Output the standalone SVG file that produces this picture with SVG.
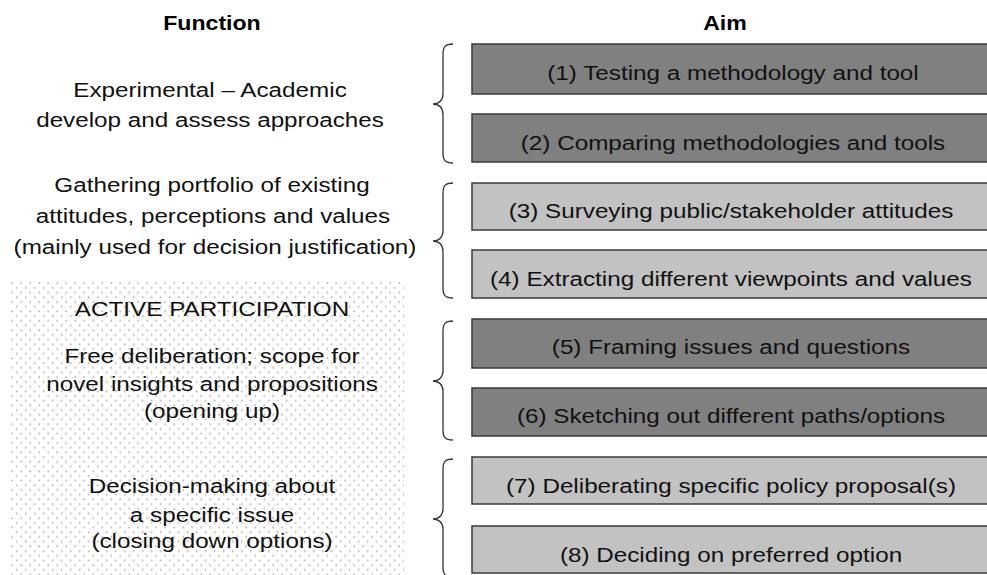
<svg xmlns="http://www.w3.org/2000/svg" width="987" height="575" viewBox="0 0 987 575">
<style>
  .t { font-family: "Liberation Sans", Arial, Helvetica, sans-serif; font-size: 21px; fill: #111; text-anchor: middle; }
  .h { font-family: "Liberation Sans", Arial, Helvetica, sans-serif; font-size: 20px; font-weight: bold; fill: #000; text-anchor: middle; }
  .dark { fill: #808080; stroke: #3a3a3a; stroke-width: 1.5; }
  .light { fill: #c2c2c2; stroke: #3a3a3a; stroke-width: 1.5; }
  .brace { fill: none; stroke: #333; stroke-width: 1.3; }
</style>
<defs>
  <pattern id="dots" x="10" y="281" width="9" height="9.4" patternUnits="userSpaceOnUse">
    <circle cx="2.2" cy="2.2" r="1" fill="#bababa"/>
    <circle cx="6.7" cy="6.9" r="1" fill="#bababa"/>
  </pattern>
</defs>
<rect width="987" height="575" fill="#fff"/>

<g id="headers">
  <text class="h" transform="translate(212,30) scale(1.155,1)">Function</text>
  <text class="h" transform="translate(725,30) scale(1.155,1)">Aim</text>
</g>

<g id="active-participation-area">
  <rect x="10" y="281" width="394" height="294" fill="url(#dots)"/>
</g>

<g id="func-experimental">
  <text class="t" transform="translate(210,97) scale(1.155,1)">Experimental – Academic</text>
  <text class="t" transform="translate(210,127) scale(1.155,1)">develop and assess approaches</text>
</g>
<g id="func-gathering">
  <text class="t" transform="translate(212,192) scale(1.155,1)">Gathering portfolio of existing</text>
  <text class="t" transform="translate(213,223) scale(1.155,1)">attitudes, perceptions and values</text>
  <text class="t" transform="translate(215,254) scale(1.155,1)">(mainly used for decision justification)</text>
</g>
<g id="func-active">
  <text class="t" transform="translate(212,316) scale(1.155,1)">ACTIVE PARTICIPATION</text>
</g>
<g id="func-free">
  <text class="t" transform="translate(212,363) scale(1.155,1)">Free deliberation; scope for</text>
  <text class="t" transform="translate(212,391) scale(1.155,1)">novel insights and propositions</text>
  <text class="t" transform="translate(212,418) scale(1.155,1)">(opening up)</text>
</g>
<g id="func-decision">
  <text class="t" transform="translate(212,493) scale(1.155,1)">Decision-making about</text>
  <text class="t" transform="translate(212,522) scale(1.155,1)">a specific issue</text>
  <text class="t" transform="translate(212,548) scale(1.155,1)">(closing down options)</text>
</g>

<g id="connectors">
  <path class="brace" d="M453,44 C445,44 443,47 443,54 L443,94 C443,100 439,104 433,104 C439,104 443,108 443,114 L443,153 C443,160 445,163 453,163"/>
  <path class="brace" d="M453,183 C445,183 443,186 443,193 L443,231 C443,237 439,241 433,241 C439,241 443,245 443,251 L443,288 C443,295 445,298 453,298"/>
  <path class="brace" d="M453,321 C445,321 443,324 443,331 L443,371 C443,377 439,381 433,381 C439,381 443,385 443,391 L443,430 C443,437 445,440 453,440"/>
  <path class="brace" d="M453,459 C445,459 443,462 443,469 L443,509 C443,515 439,519 433,519 C439,519 443,523 443,529 L443,567 C443,574 445,577 453,577"/>
</g>

<g id="aim1">
  <rect class="dark" x="472" y="44" width="516" height="50"/>
  <text class="t" transform="translate(733,80) scale(1.155,1)">(1) Testing a methodology and tool</text>
</g>
<g id="aim2">
  <rect class="dark" x="472" y="114" width="516" height="48"/>
  <text class="t" transform="translate(733,150) scale(1.155,1)">(2) Comparing methodologies and tools</text>
</g>
<g id="aim3">
  <rect class="light" x="472" y="183" width="516" height="47"/>
  <text class="t" transform="translate(731,218) scale(1.155,1)">(3) Surveying public/stakeholder attitudes</text>
</g>
<g id="aim4">
  <rect class="light" x="472" y="250" width="516" height="48"/>
  <text class="t" transform="translate(731,286) scale(1.155,1)">(4) Extracting different viewpoints and values</text>
</g>
<g id="aim5">
  <rect class="dark" x="472" y="319" width="516" height="49"/>
  <text class="t" transform="translate(731,354) scale(1.155,1)">(5) Framing issues and questions</text>
</g>
<g id="aim6">
  <rect class="dark" x="472" y="388" width="516" height="48"/>
  <text class="t" transform="translate(731,423) scale(1.155,1)">(6) Sketching out different paths/options</text>
</g>
<g id="aim7">
  <rect class="light" x="472" y="457" width="516" height="47"/>
  <text class="t" transform="translate(731,493) scale(1.155,1)">(7) Deliberating specific policy proposal(s)</text>
</g>
<g id="aim8">
  <rect class="light" x="472" y="526" width="516" height="47"/>
  <text class="t" transform="translate(731,562) scale(1.155,1)">(8) Deciding on preferred option</text>
</g>
</svg>
